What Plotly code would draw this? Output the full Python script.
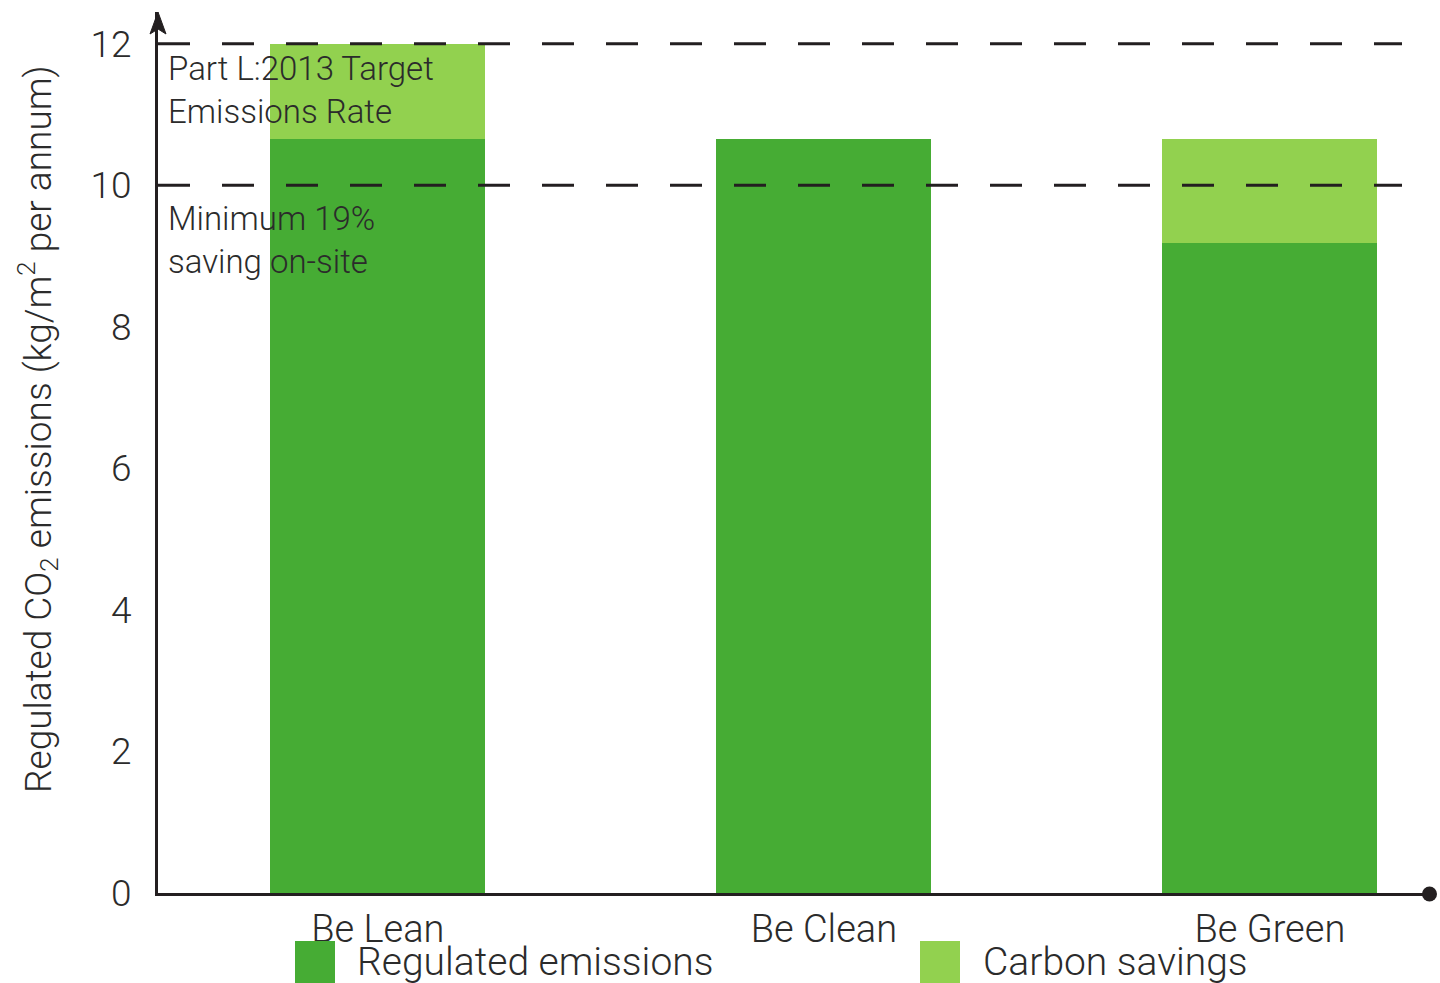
import plotly.graph_objects as go

categories = ["Be Lean", "Be Clean", "Be Green"]
regulated = [10.66, 10.66, 9.18]
savings = [1.34, 0.0, 1.48]
y_ticks = [0, 2, 4, 6, 8, 10, 12]
target_rate = 12
minimum_saving = 10

DARK = "#46AC34"
LIGHT = "#92D14F"
INK = "#231F20"
TXT = "#2b2b2b"
FONT = "Roboto"

fig = go.Figure()
fig.add_trace(go.Bar(x=categories, y=regulated, name="Regulated emissions",
                     marker=dict(color=DARK, line=dict(width=0)), width=0.482,
                     showlegend=False))
fig.add_trace(go.Bar(x=categories, y=savings, name="Carbon savings",
                     marker=dict(color=LIGHT, line=dict(width=0)), width=0.482,
                     showlegend=False))

W, H = 1272, 881  # plot area size in px

shapes = []
for yv in [target_rate, minimum_saving]:
    shapes.append(dict(type="line", xref="paper", yref="y", x0=0, x1=(1402 - 158) / W,
                       y0=yv, y1=yv, layer="above",
                       line=dict(color=INK, width=3, dash="32px,32px")))
# arrowhead on y axis
tip_y = 1.0
base_y = (893 - 34) / H
notch_y = (893 - 29) / H
hw = 8 / W
shapes.append(dict(type="path", xref="paper", yref="paper", layer="above",
                   path=f"M 0,{tip_y} L {hw},{base_y} L 0,{notch_y} L {-hw},{base_y} Z",
                   fillcolor=INK, line=dict(color=INK, width=1)))
# dot at end of x axis
shapes.append(dict(type="circle", xref="paper", yref="paper", layer="above",
                   x0=(1422 - 158) / W, x1=(1437 - 158) / W,
                   y0=-8.5 / H, y1=6.5 / H, fillcolor=INK, line=dict(color=INK, width=0)))
# legend squares
shapes.append(dict(type="rect", xref="paper", yref="paper",
                   x0=(295 - 158) / W, x1=(335 - 158) / W,
                   y0=(893 - 983) / H, y1=(893 - 941) / H,
                   fillcolor=DARK, line=dict(width=0)))
shapes.append(dict(type="rect", xref="paper", yref="paper",
                   x0=(920 - 158) / W, x1=(960 - 158) / W,
                   y0=(893 - 983) / H, y1=(893 - 941) / H,
                   fillcolor=LIGHT, line=dict(width=0)))

tfont = dict(family=FONT, size=33, color=TXT, weight=300)
annotations = [
    dict(text="Part L:2013 Target<br>Emissions Rate", xref="paper", yref="paper",
         x=(166 - 158) / W, y=(893 - 47) / H, xanchor="left", yanchor="top",
         align="left", showarrow=False, font=tfont),
    dict(text="Minimum 19%<br>saving on-site", xref="paper", yref="paper",
         x=(166 - 158) / W, y=(893 - 197) / H, xanchor="left", yanchor="top",
         align="left", showarrow=False, font=tfont),
    dict(text="Regulated CO<sub>2</sub> emissions (kg/m<sup>2</sup> per annum)",
         xref="paper", yref="paper", x=(37 - 158) / W, y=(893 - 429) / H,
         xanchor="center", yanchor="middle", textangle=-90, showarrow=False,
         font=dict(family=FONT, size=37, color=TXT, weight=300)),
    dict(text="Regulated emissions", xref="paper", yref="paper",
         x=(355 - 158) / W, y=(893 - 962) / H, xanchor="left", yanchor="middle",
         showarrow=False, font=dict(family=FONT, size=39, color=TXT, weight=300)),
    dict(text="Carbon savings", xref="paper", yref="paper",
         x=(981 - 158) / W, y=(893 - 962) / H, xanchor="left", yanchor="middle",
         showarrow=False, font=dict(family=FONT, size=39, color=TXT, weight=300)),
]

fig.update_layout(
    barmode="stack",
    width=1440, height=983,
    margin=dict(l=158, r=10, t=12, b=90),
    paper_bgcolor="white", plot_bgcolor="white",
    shapes=shapes, annotations=annotations,
    showlegend=False,
    xaxis=dict(range=[-0.493, 2.359], showgrid=False, zeroline=False,
               showline=True, linecolor=INK, linewidth=3, ticks="",
               tickfont=dict(family=FONT, size=38, color=TXT, weight=300),
               ticklabelstandoff=0),
    yaxis=dict(range=[0, 12.45], showgrid=False, zeroline=False,
               showline=True, linecolor=INK, linewidth=3, ticks="",
               tickvals=y_ticks, ticktext=[str(v) for v in y_ticks],
               tickfont=dict(family=FONT, size=37, color=TXT, weight=300),
               ticklabelstandoff=16),
)

fig.write_html("out.html")
